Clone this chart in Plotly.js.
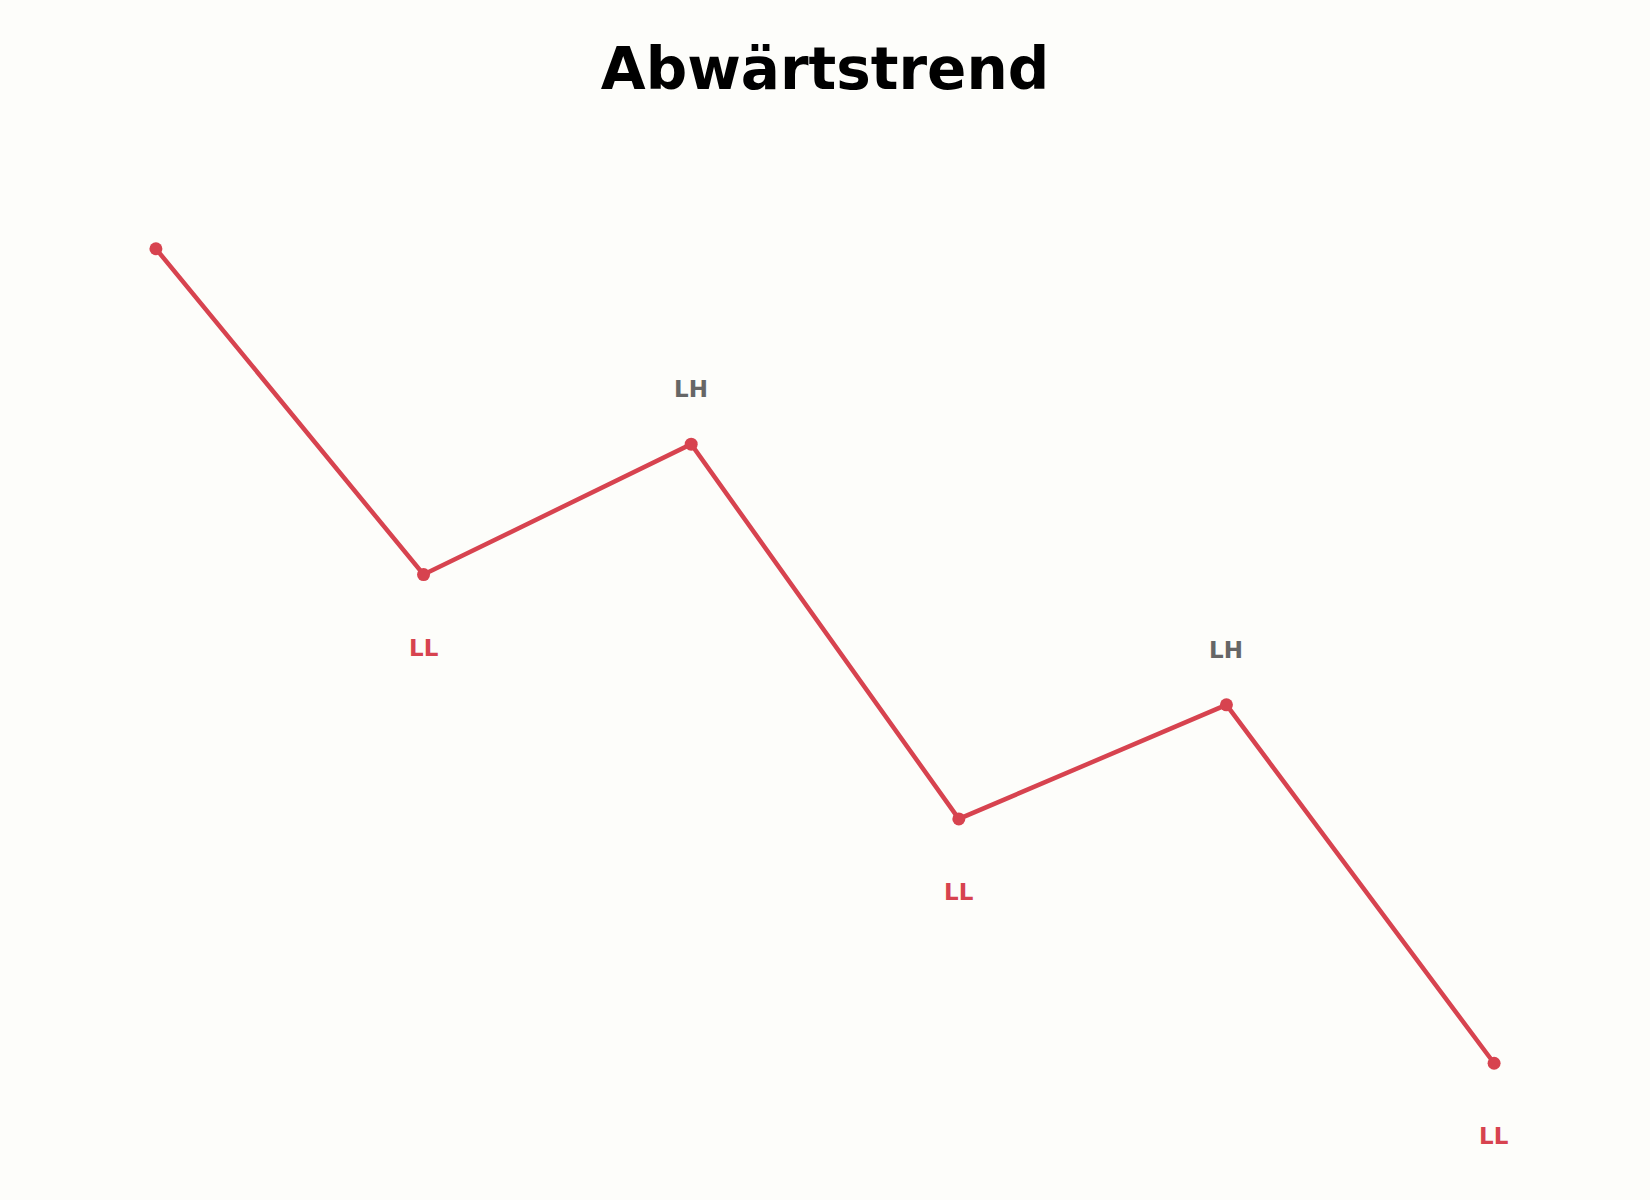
<!DOCTYPE html>
<html>
<head>
<meta charset="utf-8">
<script src="https://cdn.plot.ly/plotly-3.0.1.min.js"></script>
<style>
  body { margin: 0; background: #fdfdfa; }
  #chart { width: 1650px; height: 1200px; }
</style>
</head>
<body>
<div id="chart"></div>
<script>
// swing points of the downtrend
var xs = [0, 1, 2, 3, 4, 5];
var prices = [100, 70, 82, 47.5, 58, 25];
var swingLabels = ['', 'LL', 'LH', 'LL', 'LH', 'LL'];

var red = '#d7434f';

var trace = {
    x: xs,
    y: prices,
    mode: 'lines+markers',
    type: 'scatter',
    line: { color: red, width: 4.5 },
    marker: { color: red, size: 13 },
    hoverinfo: 'skip'
};

var annotations = [];
for (var i = 0; i < xs.length; i++) {
    if (!swingLabels[i]) continue;
    var low = swingLabels[i] === 'LL';
    annotations.push({
        x: xs[i],
        y: prices[i],
        text: swingLabels[i],
        showarrow: false,
        yshift: low ? -73 : 55,
        font: { family: 'DejaVu Sans', size: 23, color: low ? red : '#666666', weight: 'bold' }
    });
}

var layout = {
    width: 1650,
    height: 1200,
    paper_bgcolor: '#fdfdfa',
    plot_bgcolor: '#fdfdfa',
    showlegend: false,
    margin: { l: 89, r: 89, t: 208, b: 96 },
    title: {
        text: '<b>Abwärtstrend</b>',
        font: { family: 'DejaVu Sans', size: 58, color: '#000000' },
        x: 0.5,
        xanchor: 'center',
        y: 0.943,
        yanchor: 'middle'
    },
    xaxis: { range: [-0.25, 5.25], visible: false, fixedrange: true },
    yaxis: { range: [21.25, 103.75], visible: false, fixedrange: true },
    annotations: annotations
};

Plotly.newPlot('chart', [trace], layout, { displayModeBar: false, staticPlot: true });
</script>
</body>
</html>
